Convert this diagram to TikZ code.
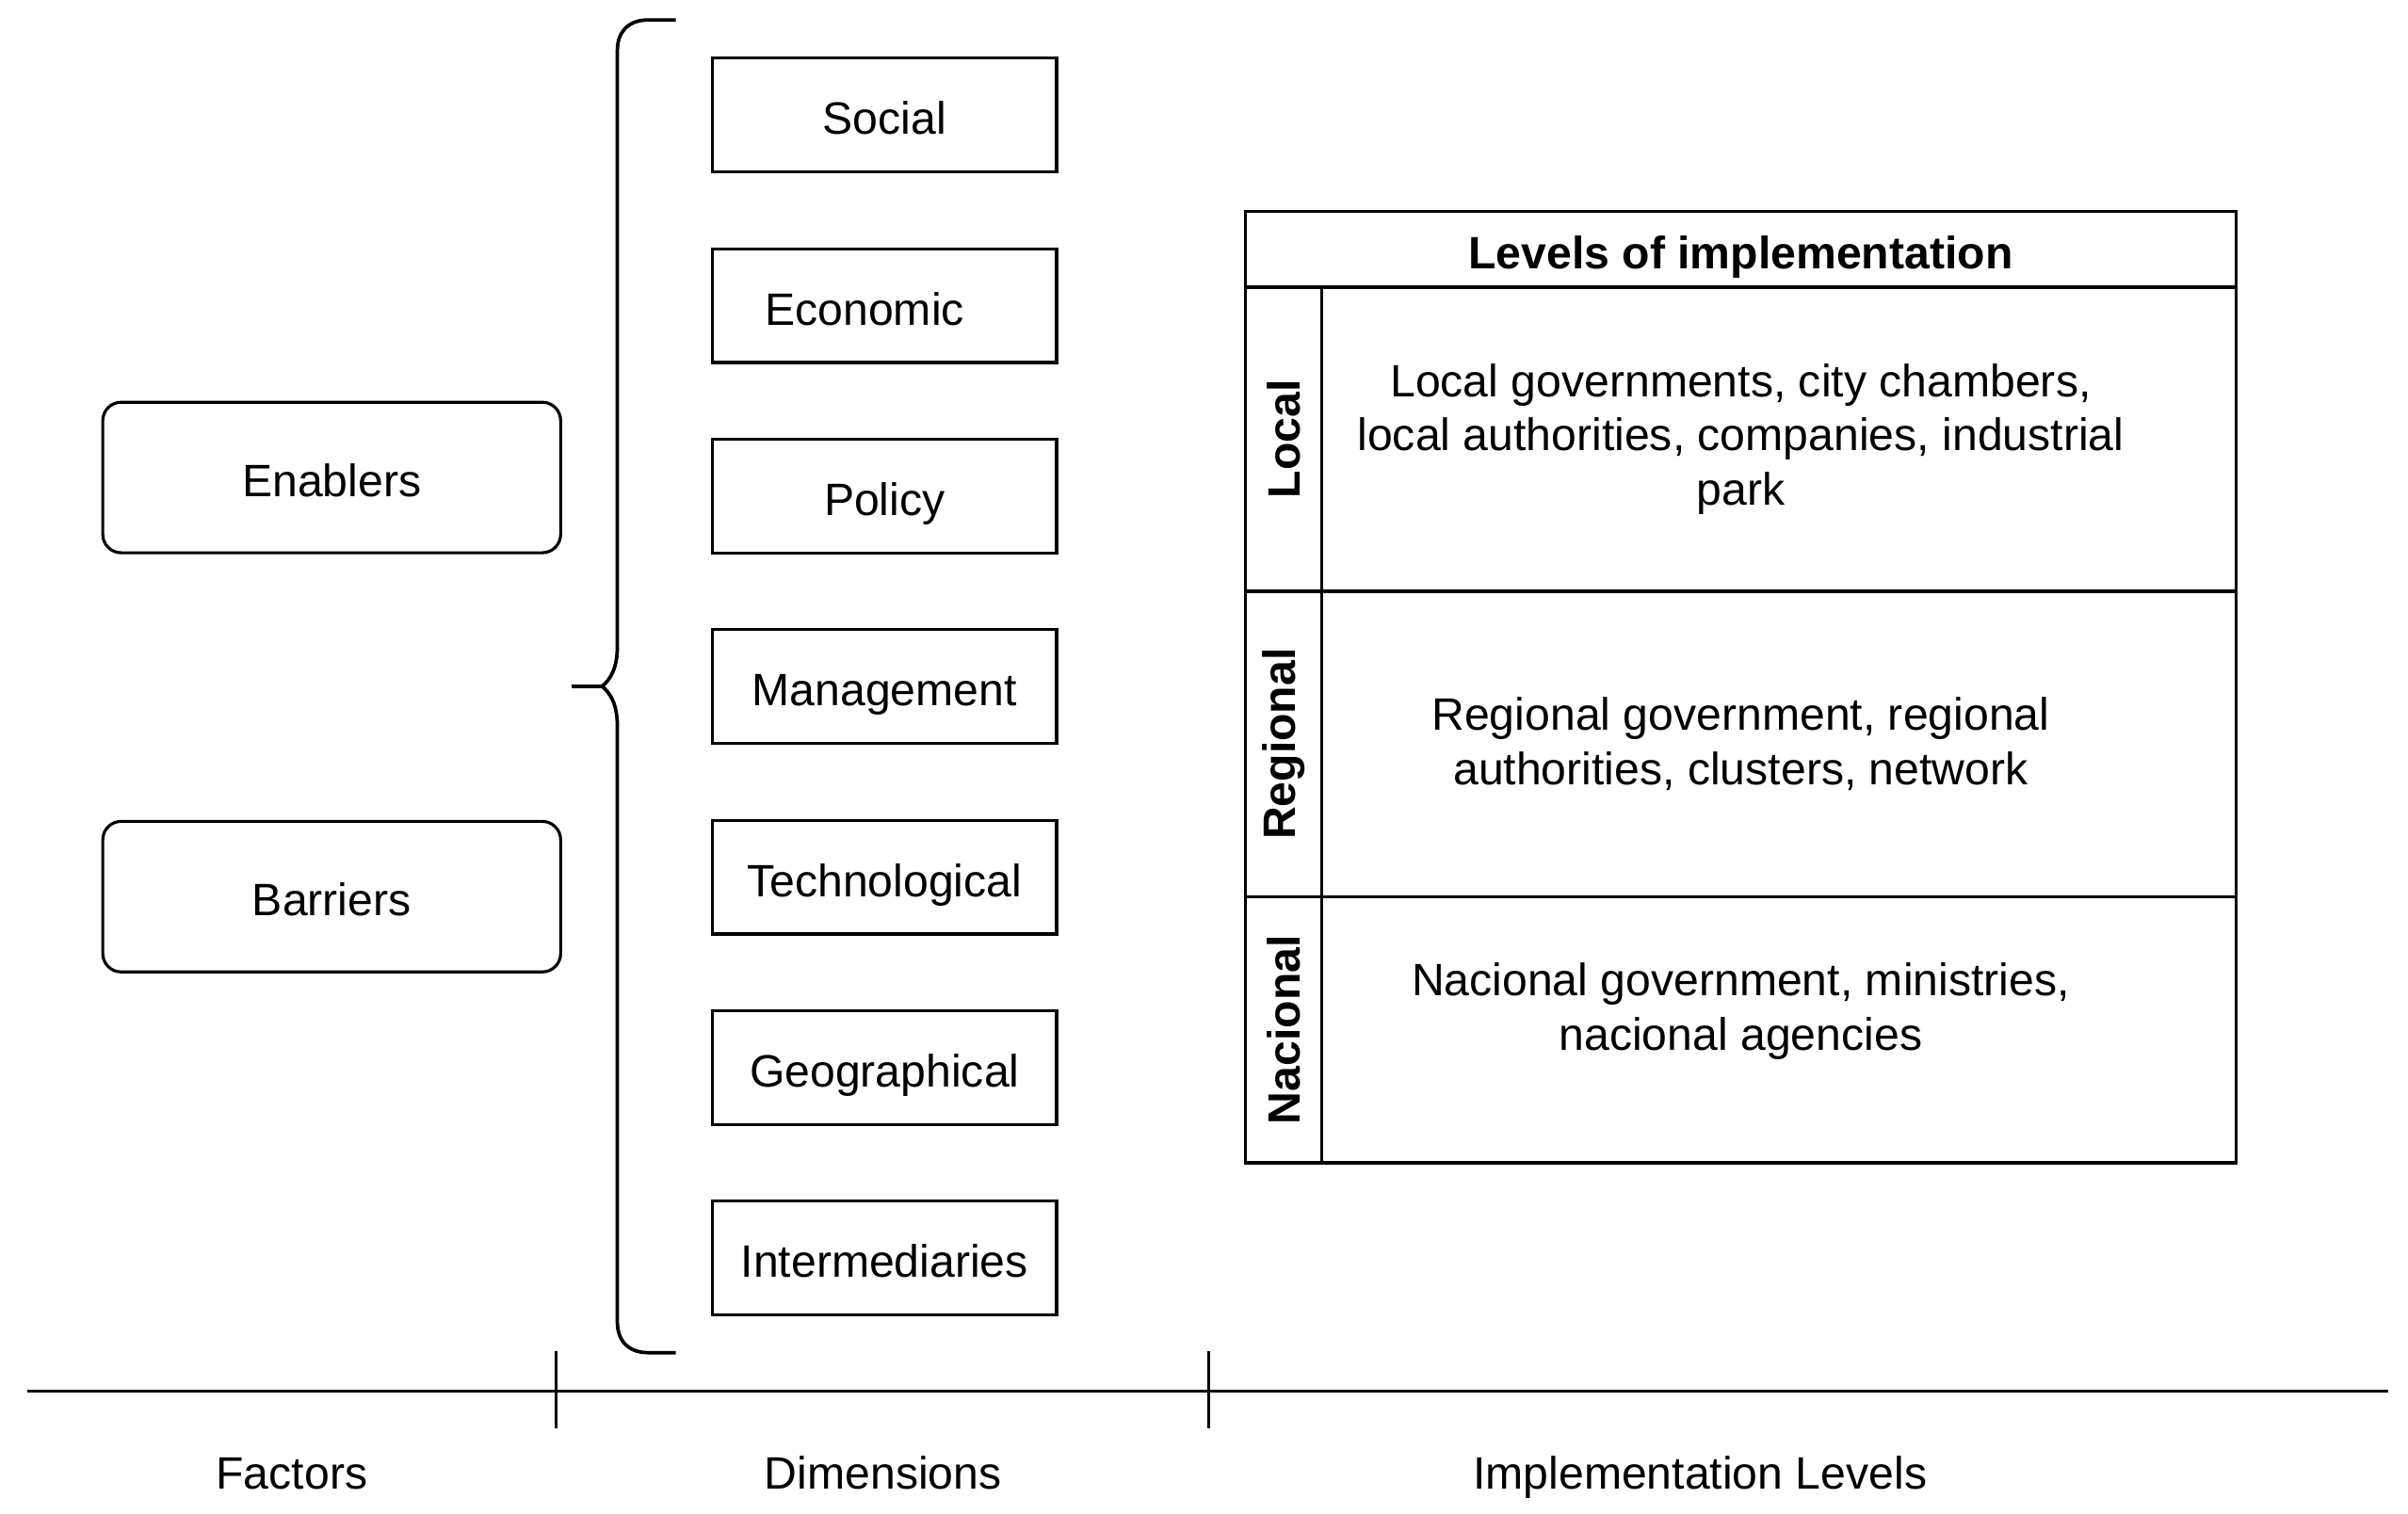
\documentclass[tikz,border=0pt]{standalone}
\usepackage{fontspec}
\setmainfont{Liberation Sans}
\usetikzlibrary{positioning, calc}

\begin{document}
\begin{tikzpicture}[
  x=0.01cm, y=-0.01cm,
  font=\fontsize{8.4}{10}\selectfont,
  oneline/.style = {text height=0.95em, text depth=0.23em},
  factor/.style = {draw, oneline, line width=0.55pt, rounded corners=1.2mm, minimum width=2.98cm, minimum height=0.98cm, outer sep=0pt},
  dimension/.style = {draw, oneline, line width=0.55pt, minimum width=2.24cm, minimum height=0.74cm, outer sep=0pt},
  row/.style = {draw, line width=0.55pt, minimum width=6.45cm, align=center, inner sep=0pt, outer sep=0pt},
  vlabel/.style = {draw, line width=0.55pt, rotate=90, font=\fontsize{8.4}{10}\selectfont\bfseries, minimum height=0.5cm, inner sep=0pt, outer sep=0pt},
  axis/.style = {line width=0.6pt},
  node distance=0.5cm
]
  \useasboundingbox (0,0) rectangle (1568,986);

  % Factors
  \node[factor] (enablers) at (216,311) {Enablers};
  \node[factor] (barriers) at (216,584) {Barriers};

  % Dimensions
  \node[dimension] (social) at (576,75) {Social};
  \node[dimension, below=of social] (economic) {Economic\hspace*{0.26cm}};
  \node[dimension, below=of economic] (policy) {Policy};
  \node[dimension, below=of policy] (management) {Management};
  \node[dimension, below=of management] (technological) {Technological};
  \node[dimension, below=of technological] (geographical) {Geographical};
  \node[dimension, below=of geographical] (intermediaries) {Intermediaries};

  % brace
  \draw[line width=0.65pt] (440,13) -- (422,13) .. controls (410,13) and (402,20) .. (402,33)
    -- (402,421) .. controls (402,436) and (397,443) .. (392,447)
    .. controls (397,451) and (402,458) .. (402,473)
    -- (402,861) .. controls (402,874) and (410,881) .. (422,881) -- (440,881);
  \draw[line width=0.65pt] (372,447) -- (392,447);

  % Levels of implementation
  \node[row, oneline, minimum height=0.495cm, anchor=north, font=\fontsize{8.4}{10}\selectfont\bfseries] (header) at (1133.5,137.5) {Levels of implementation};
  \node[row, minimum height=1.98cm, below=0pt of header] (localrow) {Local governments, city chambers,\\local authorities, companies, industrial\\park};
  \node[row, minimum height=1.988cm, below=0pt of localrow] (regionalrow) {Regional government, regional\\authorities, clusters, network};
  \node[row, minimum height=1.732cm, below=0pt of regionalrow,
    label={[align=center, yshift=0.12cm]center:{Nacional government, ministries,\\nacional agencies}}] (nacionalrow) {};

  \node[vlabel, minimum width=1.98cm] (locallbl) at ($(localrow.west)+(25,0)$) {Local};
  \node[vlabel, minimum width=1.988cm] (regionallbl) at ($(regionalrow.west)+(25,0)$) {Regional};
  \node[vlabel, minimum width=1.732cm] (nacionallbl) at ($(nacionalrow.west)+(25,0)$) {Nacional};

  % axis
  \coordinate (axisstart) at (18,906);
  \coordinate (axisend) at (1555,906);
  \coordinate (tickatop) at (362,880);
  \coordinate (tickabot) at (362,930);
  \coordinate (tickbtop) at (787,880);
  \coordinate (tickbbot) at (787,930);
  \draw[axis] (axisstart) -- (axisend);
  \draw[axis] (tickatop) -- (tickabot);
  \draw[axis] (tickbtop) -- (tickbbot);

  \node[oneline] (factorslbl) at (190,957) {Factors};
  \node[oneline] (dimensionslbl) at (575,957) {Dimensions};
  \node[oneline] (levelslbl) at (1107,957) {Implementation Levels};

\end{tikzpicture}
\end{document}
